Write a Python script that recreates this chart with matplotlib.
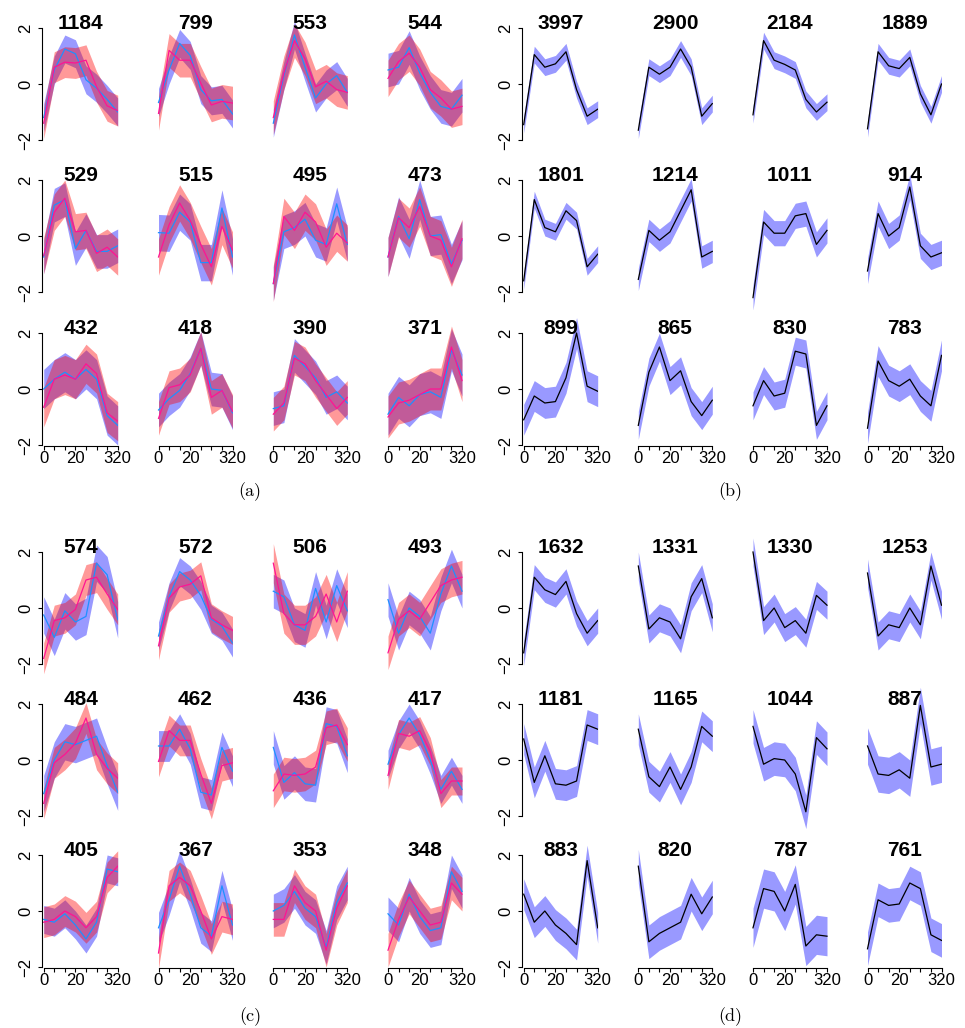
import numpy as np
import matplotlib
matplotlib.use('Agg')
import matplotlib.pyplot as plt

plt.rcParams['font.family'] = ['Liberation Sans', 'DejaVu Sans']

# ---- data (8 time points per profile) ----
x = np.arange(8)
xtick_labels = ['0', '', '', '20', '', '', '', '320']

a_titles = [1184, 799, 553, 544, 529, 515, 495, 473, 432, 418, 390, 371]
a_blue = [
    [-1.2, 0.5, 1.25, 1.08, 0.15, -0.15, -0.55, -1.0],
    [-0.66, 0.5, 1.45, 1.02, -0.2, -0.6, -0.55, -1.07],
    [-1.4, 0.3, 1.75, 0.6, -0.5, 0.0, 0.3, -0.3],
    [0.5, 0.6, 1.3, 0.4, -0.3, -0.8, -0.9, -0.4],
    [-0.75, 1.1, 1.3, -0.45, 0.2, -0.55, -0.55, -0.35],
    [0.12, 0.1, 0.85, 0.5, -0.95, -0.95, 1.0, -0.75],
    [-1.7, 0.15, 0.3, 0.6, -0.15, -0.3, 1.15, -0.3],
    [-0.75, 0.7, -0.1, 1.3, 0.0, 0.05, -1.0, -0.15],
    [0.0, 0.35, 0.6, 0.35, 0.7, 0.35, -0.95, -1.3],
    [-0.75, -0.35, -0.05, 0.55, 1.45, 0.0, -0.05, -0.85],
    [-0.7, -0.6, 1.2, 0.8, 0.4, -0.3, -0.1, -0.5],
    [-0.9, -0.3, -0.6, -0.2, -0.1, -0.3, 1.4, 0.5],
]
a_blue_sd = [0.5, 0.5, 0.5, 0.6, 0.6, 0.65, 0.6, 0.7, 0.7, 0.6, 0.6, 0.75]
a_red = [
    [-1.4, 0.6, 0.78, 0.75, 0.85, -0.1, -0.78, -0.95],
    [-1.05, 1.2, 0.85, 0.85, 0.03, -0.75, -0.62, -0.68],
    [-1.2, 0.4, 1.55, 0.9, -0.1, 0.1, -0.2, -0.3],
    [0.2, 0.8, 1.1, 0.6, -0.2, -0.5, -0.9, -0.8],
    [-0.7, 0.85, 1.35, 0.15, 0.2, -0.62, -0.4, -0.75],
    [-0.75, 0.4, 1.18, 0.55, -0.3, -1.1, 0.34, -0.5],
    [-1.7, 0.7, 0.2, 0.85, 0.5, -0.4, 0.1, -0.25],
    [-0.75, 0.65, 0.3, 1.05, 0.0, -0.15, -1.1, -0.1],
    [-0.65, 0.35, 0.5, 0.35, 0.9, 0.55, -0.85, -1.15],
    [-1.05, 0.05, 0.15, 0.5, 1.45, -0.3, -0.05, -0.8],
    [-0.9, -0.5, 1.1, 0.9, 0.3, -0.2, -0.7, -0.3],
    [-1.0, -0.5, -0.4, -0.2, 0.0, 0.0, 1.5, 0.3],
]
a_red_sd = [0.55, 0.6, 0.6, 0.65, 0.65, 0.65, 0.65, 0.7, 0.7, 0.6, 0.6, 0.75]

b_titles = [3997, 2900, 2184, 1889, 1801, 1214, 1011, 914, 899, 865, 830, 783]
b_mean = [
    [-1.45, 1.05, 0.6, 0.72, 1.15, -0.2, -1.15, -0.9],
    [-1.65, 0.6, 0.35, 0.6, 1.25, 0.6, -1.15, -0.7],
    [-1.1, 1.55, 0.85, 0.7, 0.5, -0.55, -1.0, -0.65],
    [-1.6, 1.15, 0.65, 0.55, 0.95, -0.35, -1.1, 0.0],
    [-1.6, 1.3, 0.3, 0.15, 0.9, 0.55, -1.1, -0.65],
    [-1.55, 0.2, -0.15, 0.15, 0.9, 1.65, -0.75, -0.55],
    [-2.2, 0.5, 0.1, 0.1, 0.72, 0.8, -0.3, 0.2],
    [-1.25, 0.8, 0.0, 0.3, 1.75, -0.35, -0.75, -0.6],
    [-1.1, -0.25, -0.5, -0.45, 0.4, 2.0, 0.1, -0.08],
    [-1.3, 0.6, 1.5, 0.3, 0.65, -0.45, -0.95, -0.4],
    [-0.6, 0.3, -0.25, -0.15, 1.35, 1.25, -1.3, -0.6],
    [-1.4, 1.0, 0.3, 0.1, 0.35, -0.25, -0.6, 1.2],
]
b_sd = [0.3, 0.3, 0.3, 0.3, 0.3, 0.4, 0.45, 0.45, 0.55, 0.5, 0.5, 0.55]

c_titles = [574, 572, 506, 493, 484, 462, 436, 417, 405, 367, 353, 348]
c_blue = [
    [-0.25, -1.05, -0.1, -0.5, -0.3, 1.6, 1.19, -0.42],
    [-1.0, 0.4, 1.3, 1.0, 0.45, -0.4, -0.65, -1.25],
    [0.6, 0.4, -0.6, -0.8, 0.7, -0.5, 0.8, -0.1],
    [0.3, -0.9, 0.0, -0.3, -0.9, 0.5, 1.5, 0.6],
    [-1.2, 0.0, 0.65, 0.55, 0.7, 0.85, -0.2, -1.15],
    [0.5, 0.5, 1.1, 0.4, -1.15, -1.25, 0.45, -0.4],
    [0.45, -0.8, -0.45, -0.85, -0.9, 1.3, 1.2, 0.15],
    [-0.15, 0.9, 1.5, 0.9, 0.0, -1.05, -0.4, -1.05],
    [-0.3, -0.4, -0.1, -0.5, -1.0, -0.4, 1.5, 1.4],
    [-0.6, 0.4, 1.6, 0.6, -0.6, -0.9, 0.9, -0.5],
    [0.0, 0.2, 0.7, 0.1, -0.2, -1.3, 0.3, 1.0],
    [-0.1, -0.5, 0.6, -0.2, -0.7, -0.6, 1.4, 0.7],
]
c_blue_sd = [0.65, 0.5, 0.6, 0.6, 0.65, 0.55, 0.6, 0.5, 0.5, 0.55, 0.6, 0.6]
c_red = [
    [-1.8, -0.45, -0.35, -0.05, 1.0, 1.1, 0.5, -0.05],
    [-1.35, 0.35, 0.75, 0.85, 1.15, -0.35, -0.6, -0.8],
    [1.6, -0.2, -0.6, -0.6, -0.3, 0.5, -0.5, 0.6],
    [-1.6, -0.4, -0.1, -0.4, 0.2, 0.8, 1.0, 1.1],
    [-1.55, -0.1, 0.2, 0.6, 1.5, 0.2, -0.3, -0.65],
    [-0.05, 1.05, 0.7, 0.7, -0.5, -1.55, -0.2, -0.1],
    [-1.1, -0.5, -0.55, -0.5, -0.25, 1.15, 1.25, 0.55],
    [-0.55, 0.95, 0.85, 1.05, 0.3, -1.2, -0.75, -0.75],
    [-0.4, -0.3, 0.0, -0.2, -0.6, -0.2, 1.2, 1.6],
    [-1.5, 0.9, 1.2, 0.9, 0.0, -1.0, -0.2, -0.3],
    [-0.3, -0.3, 0.9, 0.3, 0.0, -1.4, 0.1, 0.9],
    [-1.4, -0.3, 0.5, 0.0, -0.5, -0.4, 1.0, 0.6],
]
c_red_sd = [0.55, 0.5, 0.7, 0.6, 0.55, 0.55, 0.6, 0.5, 0.55, 0.55, 0.6, 0.6]

d_titles = [1632, 1331, 1330, 1253, 1181, 1165, 1044, 887, 883, 820, 787, 761]
d_mean = [
    [-1.6, 1.1, 0.65, 0.48, 0.95, -0.2, -0.9, -0.45],
    [1.5, -0.75, -0.35, -0.5, -1.1, 0.4, 1.05, -0.35],
    [2.0, -0.45, 0.0, -0.7, -0.45, -0.9, 0.45, 0.1],
    [1.25, -1.0, -0.6, -0.7, 0.0, -0.6, 1.5, 0.1],
    [0.75, -0.8, 0.15, -0.85, -0.9, -0.75, 1.25, 1.1],
    [1.1, -0.6, -0.95, -0.25, -1.05, -0.25, 1.2, 0.85],
    [1.2, -0.15, 0.05, 0.0, -0.5, -1.85, 0.8, 0.4],
    [0.5, -0.5, -0.55, -0.35, -0.65, 1.95, -0.25, -0.15],
    [0.6, -0.4, 0.0, -0.5, -0.8, -1.2, 1.8, -0.6],
    [1.6, -1.1, -0.8, -0.6, -0.4, 0.6, -0.1, 0.5],
    [-0.6, 0.8, 0.7, 0.0, 0.95, -1.25, -0.85, -0.9],
    [-1.35, 0.4, 0.2, 0.25, 1.0, 0.8, -0.85, -1.05],
]
d_sd = [0.45, 0.5, 0.5, 0.5, 0.55, 0.55, 0.6, 0.65, 0.55, 0.6, 0.7, 0.6]

# ---- layout (pixels) ----
W, H = 965, 1028
fig = plt.figure(figsize=(W / 100, H / 100), dpi=100)

left_x0 = [43.7, 158.5, 273.3, 388.0]
right_x0 = [523.7, 638.3, 753.0, 867.5]
top_y2 = [28, 180, 333]
bot_y2 = [552, 704, 855]


def make_ax(x0px, y2px, col, row):
    ppx = 74 / 7
    ppy = 28.0
    left = x0px - 0.2 * ppx
    width = 7.25 * ppx
    top = y2px - 0.6 * ppy
    height = 5.2 * ppy
    ax = fig.add_axes([left / W, 1 - (top + height) / H, width / W, height / H])
    ax.set_xlim(-0.2, 7.05)
    ax.set_ylim(-2.6, 2.6)
    ax.patch.set_visible(False)
    ax.spines['top'].set_visible(False)
    ax.spines['right'].set_visible(False)
    if col == 0:
        ax.spines['left'].set_bounds(-2, 2)
        ax.spines['left'].set_linewidth(0.8)
        ax.set_yticks([-2, 0, 2])
        ax.tick_params(axis='y', length=3, width=0.8, labelsize=12, pad=3)
        for lab in ax.get_yticklabels():
            lab.set_rotation(90)
            lab.set_va('center')
    else:
        ax.spines['left'].set_visible(False)
        ax.set_yticks([])
    if row == 2:
        ax.spines['bottom'].set_position(('data', -2.03))
        ax.spines['bottom'].set_bounds(0, 7)
        ax.spines['bottom'].set_linewidth(0.8)
        ax.set_xticks(x)
        ax.set_xticklabels(xtick_labels)
        ax.tick_params(axis='x', length=3, width=0.8, labelsize=12, pad=0.5)
    else:
        ax.spines['bottom'].set_visible(False)
        ax.set_xticks([])
    return ax


def dual_panel(x0s, y2s, titles, blue, blue_sd, red, red_sd):
    for i, t in enumerate(titles):
        row, col = divmod(i, 4)
        ax = make_ax(x0s[col], y2s[row], col, row)
        b = np.array(blue[i])
        r = np.array(red[i])
        ax.fill_between(x, b - blue_sd[i], b + blue_sd[i], color='blue', alpha=0.4, lw=0)
        ax.plot(x, b, color='#1e90ff', lw=0.9)
        ax.fill_between(x, r - red_sd[i], r + red_sd[i], color='red', alpha=0.4, lw=0)
        ax.plot(x, r, color='#ff1493', lw=0.9)
        ax.text(3.5, 2.16, str(t), ha='center', va='center', fontsize=15, fontweight='bold')


def single_panel(x0s, y2s, titles, mean, sd):
    for i, t in enumerate(titles):
        row, col = divmod(i, 4)
        ax = make_ax(x0s[col], y2s[row], col, row)
        m = np.array(mean[i])
        ax.plot(x, m, color='black', lw=0.9)
        ax.fill_between(x, m - sd[i], m + sd[i], color='blue', alpha=0.4, lw=0)
        ax.text(3.5, 2.16, str(t), ha='center', va='center', fontsize=15, fontweight='bold')


dual_panel(left_x0, top_y2, a_titles, a_blue, a_blue_sd, a_red, a_red_sd)
single_panel(right_x0, top_y2, b_titles, b_mean, b_sd)
dual_panel(left_x0, bot_y2, c_titles, c_blue, c_blue_sd, c_red, c_red_sd)
single_panel(right_x0, bot_y2, d_titles, d_mean, d_sd)

for lab, px, py in [('(a)', 250, 492), ('(b)', 730, 492), ('(c)', 250, 1017), ('(d)', 730, 1017)]:
    fig.text(px / W, 1 - py / H, lab, family='cmr10', fontsize=13, ha='center', va='center')

fig.savefig('out.png', dpi=100)
